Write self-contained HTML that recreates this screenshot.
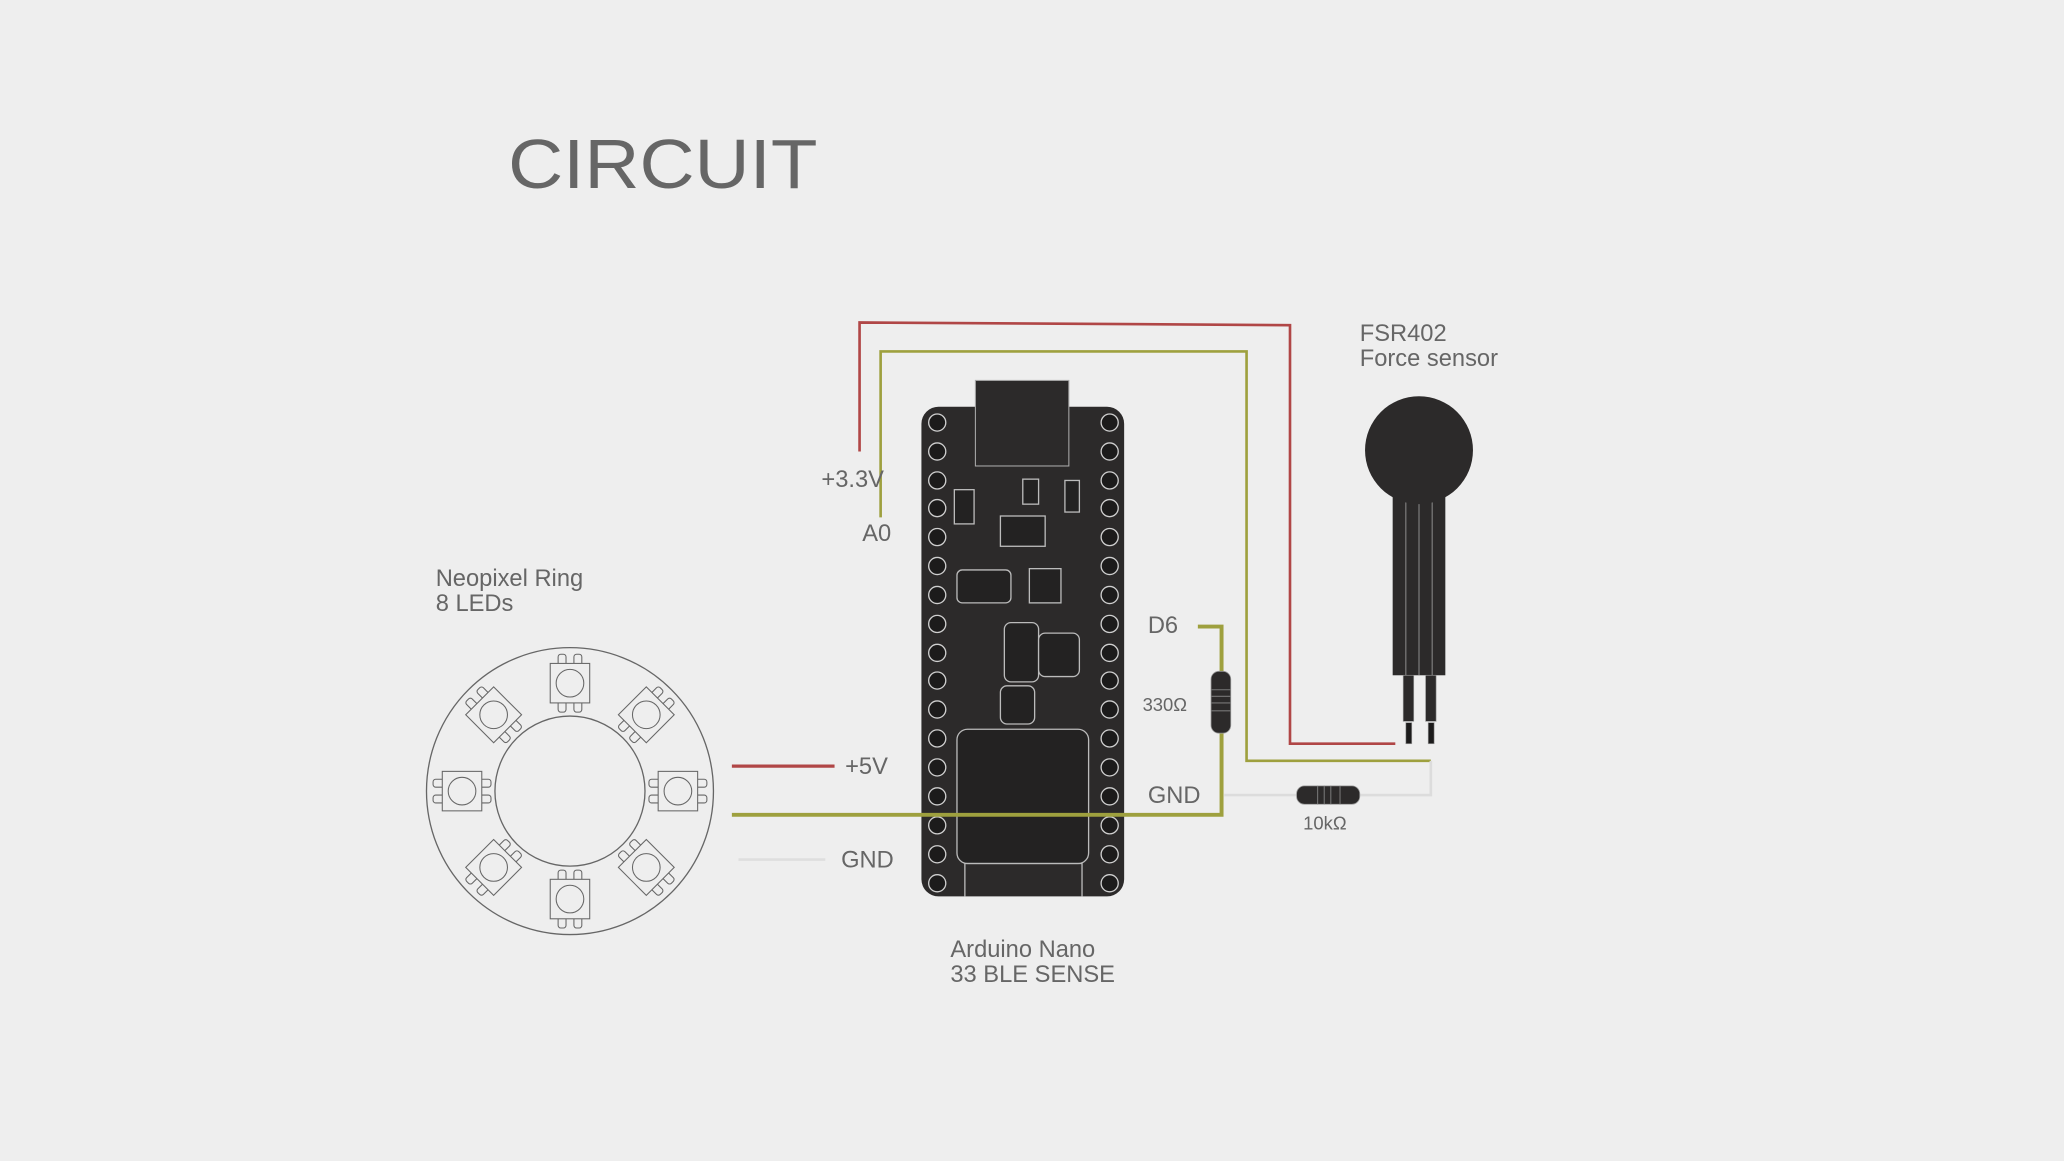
<!DOCTYPE html>
<html><head><meta charset="utf-8"><style>
html,body{margin:0;padding:0;background:#eeeeee;}
svg{display:block;}
text{font-family:"Liberation Sans",sans-serif;fill:#666;}
</style></head><body>
<svg width="2064" height="1161" viewBox="0 0 1568 882" xmlns="http://www.w3.org/2000/svg">
<rect x="0" y="0" width="1568" height="882" fill="#eeeeee"/>
<text x="386" y="143" font-size="53" textLength="235" lengthAdjust="spacingAndGlyphs">CIRCUIT</text>

<!-- wires -->
<polyline points="653,343 653,245 980,247 980,565 1060,565" fill="none" stroke="#b04646" stroke-width="2"/>
<polyline points="669,393 669,267 947,267 947,578 1087,578" fill="none" stroke="#9ea03e" stroke-width="2"/>
<polyline points="930,604 985,604" fill="none" stroke="#dcdcdc" stroke-width="2"/>
<polyline points="1033,604 1087,604 1087,578" fill="none" stroke="#dcdcdc" stroke-width="2"/>
<line x1="556" y1="582" x2="634" y2="582" stroke="#b04646" stroke-width="2.5"/>
<line x1="561" y1="653" x2="627" y2="653" stroke="#dedede" stroke-width="2"/>

<!-- board -->
<rect x="700" y="309" width="154" height="372" rx="13" fill="#2c2a2a"/>
<rect x="741" y="289" width="71" height="65" fill="#2c2a2a" stroke="#aaa" stroke-width="0.8"/>
<g fill="#232222" stroke="#bbb" stroke-width="1">
<rect x="725" y="372" width="15" height="26"/>
<rect x="777" y="364" width="12" height="19"/>
<rect x="809" y="365" width="11" height="24"/>
<rect x="760" y="392" width="34" height="23"/>
<rect x="727" y="433" width="41" height="25" rx="4"/>
<rect x="782" y="432" width="24" height="26"/>
<rect x="763" y="473" width="26" height="45" rx="5"/>
<rect x="789" y="481" width="31" height="33" rx="5"/>
<rect x="760" y="521" width="26" height="29" rx="5"/>
<rect x="727" y="554" width="100" height="102" rx="8"/>
</g>
<polyline points="733,681 733,656 822,656 822,681" fill="none" stroke="#bbb" stroke-width="1"/>
<g fill="#1c1b1b" stroke="#cfcfcf" stroke-width="1">
<circle cx="712" cy="321" r="6.5"/><circle cx="843" cy="321" r="6.5"/>
<circle cx="712" cy="343" r="6.5"/><circle cx="843" cy="343" r="6.5"/>
<circle cx="712" cy="365" r="6.5"/><circle cx="843" cy="365" r="6.5"/>
<circle cx="712" cy="386" r="6.5"/><circle cx="843" cy="386" r="6.5"/>
<circle cx="712" cy="408" r="6.5"/><circle cx="843" cy="408" r="6.5"/>
<circle cx="712" cy="430" r="6.5"/><circle cx="843" cy="430" r="6.5"/>
<circle cx="712" cy="452" r="6.5"/><circle cx="843" cy="452" r="6.5"/>
<circle cx="712" cy="474" r="6.5"/><circle cx="843" cy="474" r="6.5"/>
<circle cx="712" cy="496" r="6.5"/><circle cx="843" cy="496" r="6.5"/>
<circle cx="712" cy="517" r="6.5"/><circle cx="843" cy="517" r="6.5"/>
<circle cx="712" cy="539" r="6.5"/><circle cx="843" cy="539" r="6.5"/>
<circle cx="712" cy="561" r="6.5"/><circle cx="843" cy="561" r="6.5"/>
<circle cx="712" cy="583" r="6.5"/><circle cx="843" cy="583" r="6.5"/>
<circle cx="712" cy="605" r="6.5"/><circle cx="843" cy="605" r="6.5"/>
<circle cx="712" cy="627" r="6.5"/><circle cx="843" cy="627" r="6.5"/>
<circle cx="712" cy="649" r="6.5"/><circle cx="843" cy="649" r="6.5"/>
<circle cx="712" cy="671" r="6.5"/><circle cx="843" cy="671" r="6.5"/>
</g>

<!-- thick green (over board) -->
<polyline points="910,476 928,476 928,510" fill="none" stroke="#9ea03e" stroke-width="3"/>
<polyline points="928,557 928,619 556,619" fill="none" stroke="#9ea03e" stroke-width="3"/>
<rect x="920" y="510" width="15" height="47" rx="6" fill="#2c2a2a" stroke="#999" stroke-width="0.6"/>
<g stroke="#777" stroke-width="0.8"><line x1="920" y1="524" x2="935" y2="524"/><line x1="920" y1="529" x2="935" y2="529"/><line x1="920" y1="534" x2="935" y2="534"/><line x1="920" y1="540" x2="935" y2="540"/></g>
<rect x="985" y="597" width="48" height="14" rx="6" fill="#2c2a2a" stroke="#999" stroke-width="0.6"/>
<g stroke="#777" stroke-width="0.8"><line x1="1001" y1="597" x2="1001" y2="611"/><line x1="1006" y1="597" x2="1006" y2="611"/><line x1="1011" y1="597" x2="1011" y2="611"/><line x1="1018" y1="597" x2="1018" y2="611"/></g>

<!-- FSR -->
<rect x="1058" y="375" width="40" height="138" fill="#2c2a2a"/>
<g stroke="#888" stroke-width="0.8"><line x1="1068" y1="380" x2="1068" y2="513"/><line x1="1078" y1="382" x2="1078" y2="513"/><line x1="1088" y1="380" x2="1088" y2="513"/></g>
<circle cx="1078" cy="342" r="41" fill="#2c2a2a"/>
<rect x="1066" y="513" width="8" height="35" fill="#2c2a2a" stroke="#999" stroke-width="0.5"/>
<rect x="1083" y="513" width="8" height="35" fill="#2c2a2a" stroke="#999" stroke-width="0.5"/>
<rect x="1068" y="549" width="4.5" height="16" fill="#1c1b1b" stroke="#999" stroke-width="0.5"/>
<rect x="1085" y="549" width="4.5" height="16" fill="#1c1b1b" stroke="#999" stroke-width="0.5"/>

<!-- ring -->
<defs>
<g id="led" fill="none" stroke="#666" stroke-width="0.8">
<rect x="-15" y="-15" width="30" height="30" fill="#eee"/>
<circle cx="0" cy="0" r="10.5"/>
<path d="M-9,-15 v-5 a2,2 0 0 1 2,-2 h2 a2,2 0 0 1 2,2 v5 M3,-15 v-5 a2,2 0 0 1 2,-2 h2 a2,2 0 0 1 2,2 v5"/>
<path d="M-9,15 v5 a2,2 0 0 0 2,2 h2 a2,2 0 0 0 2,-2 v-5 M3,15 v5 a2,2 0 0 0 2,2 h2 a2,2 0 0 0 2,-2 v-5"/>
</g>
</defs>
<circle cx="433" cy="601" r="109" fill="none" stroke="#666" stroke-width="1"/>
<circle cx="433" cy="601" r="57" fill="none" stroke="#666" stroke-width="1"/>
<g transform="translate(433,601)">
<use href="#led" transform="rotate(0) translate(0,-82)"/>
<use href="#led" transform="rotate(45) translate(0,-82)"/>
<use href="#led" transform="rotate(90) translate(0,-82)"/>
<use href="#led" transform="rotate(135) translate(0,-82)"/>
<use href="#led" transform="rotate(180) translate(0,-82)"/>
<use href="#led" transform="rotate(225) translate(0,-82)"/>
<use href="#led" transform="rotate(270) translate(0,-82)"/>
<use href="#led" transform="rotate(315) translate(0,-82)"/>
</g>

<!-- labels -->
<g font-size="18">
<text x="624" y="370">+3.3V</text>
<text x="655" y="411">A0</text>
<text x="872" y="481">D6</text>
<text x="872" y="610">GND</text>
<text x="642" y="588">+5V</text>
<text x="639" y="659">GND</text>
<text x="331" y="445">Neopixel Ring</text>
<text x="331" y="464">8 LEDs</text>
<text x="1033" y="259">FSR402</text>
<text x="1033" y="278">Force sensor</text>
<text x="722" y="727">Arduino Nano</text>
<text x="722" y="746">33 BLE SENSE</text>
</g>
<text x="868" y="540" font-size="14">330Ω</text>
<text x="990" y="630" font-size="14">10kΩ</text>
</svg>
</body></html>
